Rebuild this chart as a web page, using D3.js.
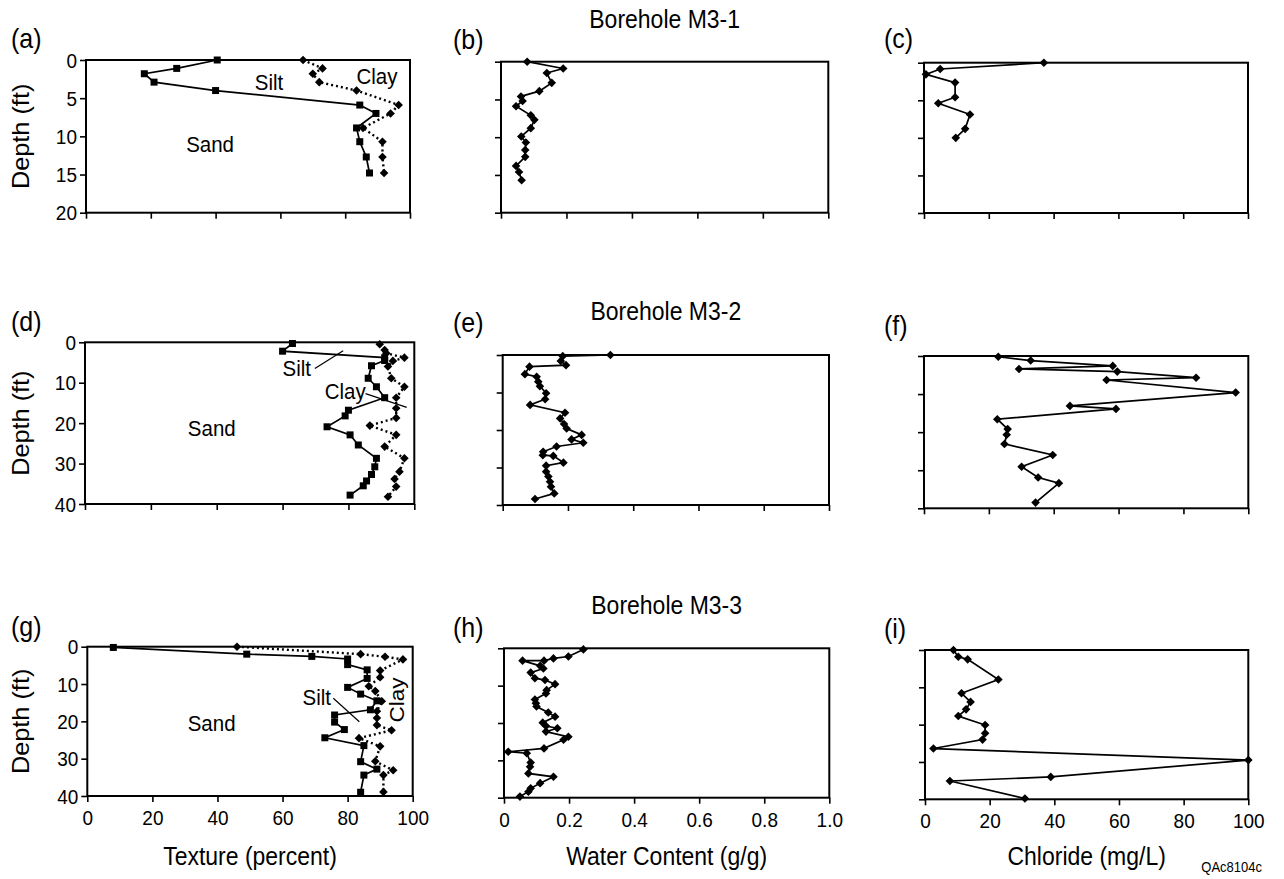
<!DOCTYPE html>
<html><head><meta charset="utf-8">
<script src="https://cdn.jsdelivr.net/npm/d3@7"></script>
<style>
body{margin:0;background:#fff}
svg{display:block}
text{font-family:"Liberation Sans",Arial,Helvetica,sans-serif;fill:#000}
</style>
</head><body><script>
// ---------------- DATA ----------------
const textureTicks = [0, 20, 40, 60, 80, 100];
const waterTicks = [0, 0.2, 0.4, 0.6, 0.8, 1.0];
const chlorideTicks = [0, 20, 40, 60, 80, 100];
const depthTicksM31 = [0, 5, 10, 15, 20];
const depthTicksDeep = [0, 10, 20, 30, 40];
const boreholeTitles = ["Borehole M3-1", "Borehole M3-2", "Borehole M3-3"];
const panelLetters = ["(a)", "(b)", "(c)", "(d)", "(e)", "(f)", "(g)", "(h)", "(i)"];
const axisTitles = ["Texture (percent)", "Water Content (g/g)", "Chloride (mg/L)"];
const figureCode = "QAc8104c";

// Borehole M3-1
const m31TexDepth   = [0, 1.1, 1.8, 2.9, 4.0, 5.9, 7.0, 8.9, 10.7, 12.7, 14.8];
const m31Sand       = [40.5, 28, 18, 21, 40, 84.5, 89.5, 83.5, 84.5, 86.5, 87.5];
const m31SandSilt   = [67, 73, 70, 72, 83.5, 96.5, 94, 85.5, 91.5, 91.5, 92];
const m31WaterDepth = [0, 0.9, 1.5, 2.8, 3.9, 4.6, 5.2, 5.9, 7.1, 7.7, 8.8, 9.9, 10.7, 11.7, 12.6, 13.8, 14.6, 15.7];
const m31Water      = [0.08, 0.19, 0.14, 0.155, 0.117, 0.061, 0.066, 0.046, 0.091, 0.102, 0.091, 0.062, 0.076, 0.074, 0.074, 0.046, 0.055, 0.063];
const m31ClDepth    = [0, 0.84, 1.55, 2.65, 4.6, 5.4, 6.9, 8.8, 10.0];
const m31Cl         = [37, 5, 0.6, 9.6, 9.6, 4.4, 14.2, 12.7, 9.8];

// Borehole M3-2
const m32SandDepth     = [0.3, 2.2, 3.8, 4.5, 5.8, 8.9, 11.0, 13.7, 16.8, 18.2, 20.9, 22.9, 25.4, 28.7, 30.8, 32.7, 34.3, 35.5, 37.8];
const m32Sand          = [63, 60, 91, 91, 87, 86, 88.5, 91, 80, 79, 73.5, 80.5, 83, 88.5, 88, 87, 85.5, 84.5, 80.5];
const m32SandSiltDepth = [0.5, 1.9, 2.7, 3.8, 4.6, 6.0, 8.9, 11.0, 13.7, 16.3, 18.7, 20.6, 22.9, 25.8, 28.7, 32.0, 33.8, 35.7, 38.2];
const m32SandSilt      = [89.5, 91, 91.5, 97, 93.5, 92, 93, 97, 94.5, 94.5, 94.5, 86.5, 94.5, 91, 97, 95.5, 94, 94.5, 92];
const m32WaterDepth = [0, 0.3, 1.6, 2.7, 3.1, 5.1, 5.8, 7.1, 8.3, 10.2, 11.8, 13.3, 15.4, 16.9, 18.4, 19.6, 21.3, 22.5, 23.4, 24.4, 25.8, 26.7, 26.9, 28.7, 29.5, 31.1, 32.4, 33.8, 35.1, 36.9, 38.4];
const m32Water      = [0.33, 0.184, 0.178, 0.194, 0.082, 0.068, 0.104, 0.109, 0.114, 0.133, 0.130, 0.084, 0.191, 0.176, 0.188, 0.196, 0.242, 0.211, 0.247, 0.165, 0.124, 0.123, 0.155, 0.186, 0.133, 0.133, 0.140, 0.145, 0.148, 0.158, 0.099];
const m32ClDepth = [0.2, 1.2, 2.6, 3.4, 4.1, 5.7, 6.3, 9.6, 13.1, 13.9, 16.6, 19.2, 20.7, 23.1, 26.0, 29.1, 31.9, 33.4, 38.5];
const m32Cl      = [22.9, 32.9, 58.2, 29.3, 59.6, 83.9, 56.3, 96.1, 45.0, 59.2, 22.6, 25.8, 25.5, 24.8, 39.7, 30.1, 35.2, 41.6, 34.4];

// Borehole M3-3
const m33SandDepth     = [0.2, 2.0, 2.6, 3.3, 4.8, 6.2, 8.5, 10.9, 12.7, 14.5, 16.9, 18.3, 20.2, 22.2, 24.4, 26.5, 30.8, 32.8, 34.4, 39.0];
const m33Sand          = [8, 49, 69, 80, 80, 86, 86, 80, 84, 89, 87, 76, 76, 79, 73, 85, 84, 89, 85, 84];
const m33SandSiltDepth = [0, 2.0, 2.7, 3.4, 6.4, 8.2, 10.6, 11.9, 14.6, 17.3, 19.1, 21.0, 22.4, 24.5, 26.7, 30.7, 33.1, 34.4, 38.9];
const m33SandSilt      = [46, 84, 91.5, 97, 90, 90, 86.5, 88.5, 90.5, 89, 89, 89, 93.5, 83.5, 90, 88.5, 94, 91, 91];
const m33WaterDepth = [0.3, 2.2, 2.7, 3.3, 3.3, 4.7, 5.4, 6.5, 8.0, 8.5, 9.6, 11.2, 12.1, 13.7, 14.7, 15.6, 17.2, 18.3, 19.9, 20.8, 21.4, 22.3, 23.7, 24.5, 26.8, 27.7, 28.1, 30.6, 31.7, 33.5, 34.4, 36.1, 37.5, 38.4, 39.7];
const m33Water      = [0.244, 0.198, 0.152, 0.123, 0.057, 0.111, 0.121, 0.082, 0.095, 0.126, 0.157, 0.131, 0.129, 0.095, 0.098, 0.100, 0.136, 0.157, 0.119, 0.129, 0.164, 0.129, 0.198, 0.183, 0.123, 0.013, 0.070, 0.082, 0.080, 0.075, 0.152, 0.111, 0.082, 0.075, 0.049];
const m33ClDepth = [0, 1.8, 2.5, 7.9, 11.6, 13.9, 15.9, 17.7, 20.1, 22.3, 24.0, 26.4, 29.5, 34.0, 35.1, 39.8];
const m33Cl      = [8.8, 10.3, 13.2, 22.7, 11.3, 14.1, 12.7, 10.3, 18.6, 18.6, 17.8, 2.6, 100, 38.9, 7.7, 30.9];

// ---------------- LAYOUT ----------------
const W = 1284, H = 879;
const FONT = '"Liberation Sans", Arial, Helvetica, sans-serif';
const VS = 1.1; // vertical stretch of scanned text

const svg = d3.select("body").append("svg").attr("width", W).attr("height", H);
svg.append("rect").attr("width", W).attr("height", H).attr("fill", "#fff");

function txt(x, y, str, size, anchor, rot) {
  return svg.append("text")
    .attr("transform", rot ? `translate(${x},${y}) rotate(${rot}) scale(${VS},1)` : `translate(${x},${y}) scale(1,${VS})`)
    .attr("font-size", size).attr("text-anchor", anchor || "start").text(str);
}

const sq = s => `M${-s},${-s}H${s}V${s}H${-s}Z`;
const dm = s => `M0,${-s}L${s},0L0,${s}L${-s},0Z`;

const waterFmt = v => v === 0 ? "0" : d3.format(".1f")(v);

const panels = [
  {box: [86, 60, 410, 212.7], xdom: [0, 100], ydom: [0, 20], xt: textureTicks, yt: depthTicksM31, col: 0, row: 0,
   series: [{d: m31TexDepth, v: m31Sand, mk: "sq"}, {d: m31TexDepth, v: m31SandSilt, mk: "dm", dot: true}],
   notes: [{t: "Silt", x: 56.5, y: 2.9}, {t: "Clay", x: 89.8, y: 2.2}, {t: "Sand", x: 38.3, y: 11.1}], leaders: []},
  {box: [501, 61.7, 828.3, 212.7], xdom: [0, 1], ydom: [0, 20], xt: waterTicks, yt: depthTicksM31, col: 1, row: 0,
   series: [{d: m31WaterDepth, v: m31Water, mk: "dm"}], notes: [], leaders: []},
  {box: [924, 62.7, 1248, 213], xdom: [0, 100], ydom: [0, 20], xt: chlorideTicks, yt: depthTicksM31, col: 2, row: 0,
   series: [{d: m31ClDepth, v: m31Cl, mk: "dm"}], notes: [], leaders: []},

  {box: [85, 342.3, 414.3, 504], xdom: [0, 100], ydom: [0, 40], xt: textureTicks, yt: depthTicksDeep, col: 0, row: 1,
   series: [{d: m32SandDepth, v: m32Sand, mk: "sq"}, {d: m32SandSiltDepth, v: m32SandSilt, mk: "dm", dot: true}],
   notes: [{t: "Silt", x: 64.3, y: 6.4}, {t: "Clay", x: 79.0, y: 12.2}, {t: "Sand", x: 38.5, y: 21.3}],
   leaders: [[69.8, 6.5, 78.4, 2.1], [85.2, 12.7, 97.7, 16.1]]},
  {box: [502.7, 355, 829, 505], xdom: [0, 1], ydom: [0, 40], xt: waterTicks, yt: depthTicksDeep, col: 1, row: 1,
   series: [{d: m32WaterDepth, v: m32Water, mk: "dm"}], notes: [], leaders: []},
  {box: [924, 356, 1248.3, 508.3], xdom: [0, 100], ydom: [0, 40], xt: chlorideTicks, yt: depthTicksDeep, col: 2, row: 1,
   series: [{d: m32ClDepth, v: m32Cl, mk: "dm"}], notes: [], leaders: []},

  {box: [87.3, 646.7, 412.7, 796], xdom: [0, 100], ydom: [0, 40], xt: textureTicks, yt: depthTicksDeep, col: 0, row: 2,
   series: [{d: m33SandDepth, v: m33Sand, mk: "sq"}, {d: m33SandSiltDepth, v: m33SandSilt, mk: "dm", dot: true}],
   notes: [{t: "Silt", x: 70.5, y: 13.6}, {t: "Clay", x: 95.1, y: 14.3, rot: -90}, {t: "Sand", x: 38.2, y: 20.5}],
   leaders: [[75.6, 13.8, 83.6, 20.1]]},
  {box: [504, 648.3, 829.3, 797.7], xdom: [0, 1], ydom: [0, 40], xt: waterTicks, yt: depthTicksDeep, col: 1, row: 2,
   series: [{d: m33WaterDepth, v: m33Water, mk: "dm"}], notes: [], leaders: []},
  {box: [925, 650, 1248.3, 799.3], xdom: [0, 100], ydom: [0, 40], xt: chlorideTicks, yt: depthTicksDeep, col: 2, row: 2,
   series: [{d: m33ClDepth, v: m33Cl, mk: "dm"}], notes: [], leaders: []}
];

const letterPos = [[11, 48], [453, 49], [884, 48], [11, 331], [453, 332], [884, 335], [11, 636], [453, 637], [884, 638]];
const titleY = [28, 320, 614];

panels.forEach((p, i) => {
  const [x0, y0, x1, y1] = p.box;
  const x = d3.scaleLinear().domain(p.xdom).range([x0, x1]);
  const y = d3.scaleLinear().domain(p.ydom).range([y0, y1]);

  const ya = d3.axisLeft(y).tickValues(p.yt).tickSize(6).tickPadding(3)
    .tickFormat(p.col === 0 ? d3.format("d") : () => "");
  const gy = svg.append("g").attr("transform", `translate(${x0},0)`).call(ya);
  gy.select(".domain").remove();
  gy.attr("font-size", 19).attr("font-family", FONT);
  gy.selectAll("line").attr("stroke-width", 1.6);
  gy.selectAll("text").attr("transform", `scale(1,${VS})`).attr("dy", "0.34em");

  const xa = d3.axisBottom(x).tickValues(p.xt).tickSize(6).tickPadding(7)
    .tickFormat(p.row === 2 ? (p.col === 1 ? waterFmt : d3.format("d")) : () => "");
  const gx = svg.append("g").attr("transform", `translate(0,${y1})`).call(xa);
  gx.select(".domain").remove();
  gx.attr("font-size", 19).attr("font-family", FONT);
  gx.selectAll("line").attr("stroke-width", 1.6);
  gx.selectAll("text").attr("transform", `scale(1,${VS})`);

  svg.append("rect").attr("x", x0).attr("y", y0).attr("width", x1 - x0).attr("height", y1 - y0)
    .attr("fill", "none").attr("stroke", "#000").attr("stroke-width", 2);

  p.series.forEach(s => {
    const pts = s.d.map((d, k) => [s.v[k], d]);
    const line = d3.line().x(d => x(d[0])).y(d => y(d[1]));
    svg.append("path").attr("d", line(pts)).attr("fill", "none").attr("stroke", "#000")
      .attr("stroke-width", s.dot ? 2.4 : 1.7)
      .attr("stroke-dasharray", s.dot ? "2,3" : null);
    svg.append("g").selectAll("path").data(pts).join("path")
      .attr("transform", d => `translate(${x(d[0])},${y(d[1])})`)
      .attr("d", s.mk === "sq" ? sq(3.5) : dm(4.3))
      .attr("fill", "#000");
  });

  p.leaders.forEach(l => {
    svg.append("line").attr("x1", x(l[0])).attr("y1", y(l[1])).attr("x2", x(l[2])).attr("y2", y(l[3]))
      .attr("stroke", "#000").attr("stroke-width", 1.2);
  });
  p.notes.forEach(n => {
    if (n.rot) txt(x(n.x) + 7, y(n.y), n.t, 20.5, "middle", n.rot);
    else txt(x(n.x), y(n.y) + 7.5, n.t, 20.5, "middle");
  });

  txt(letterPos[i][0], letterPos[i][1], panelLetters[i], 25, "start");
  if (p.col === 0) txt(29, (y0 + y1) / 2, "Depth (ft)", 23, "middle", -90);
  if (p.col === 1) txt((x0 + x1) / 2, titleY[p.row], boreholeTitles[p.row], 23, "middle");
  if (p.row === 2) txt((x0 + x1) / 2, 865, axisTitles[p.col], 23, "middle");
});

txt(1262, 872, figureCode, 13, "end");
</script></body></html>
